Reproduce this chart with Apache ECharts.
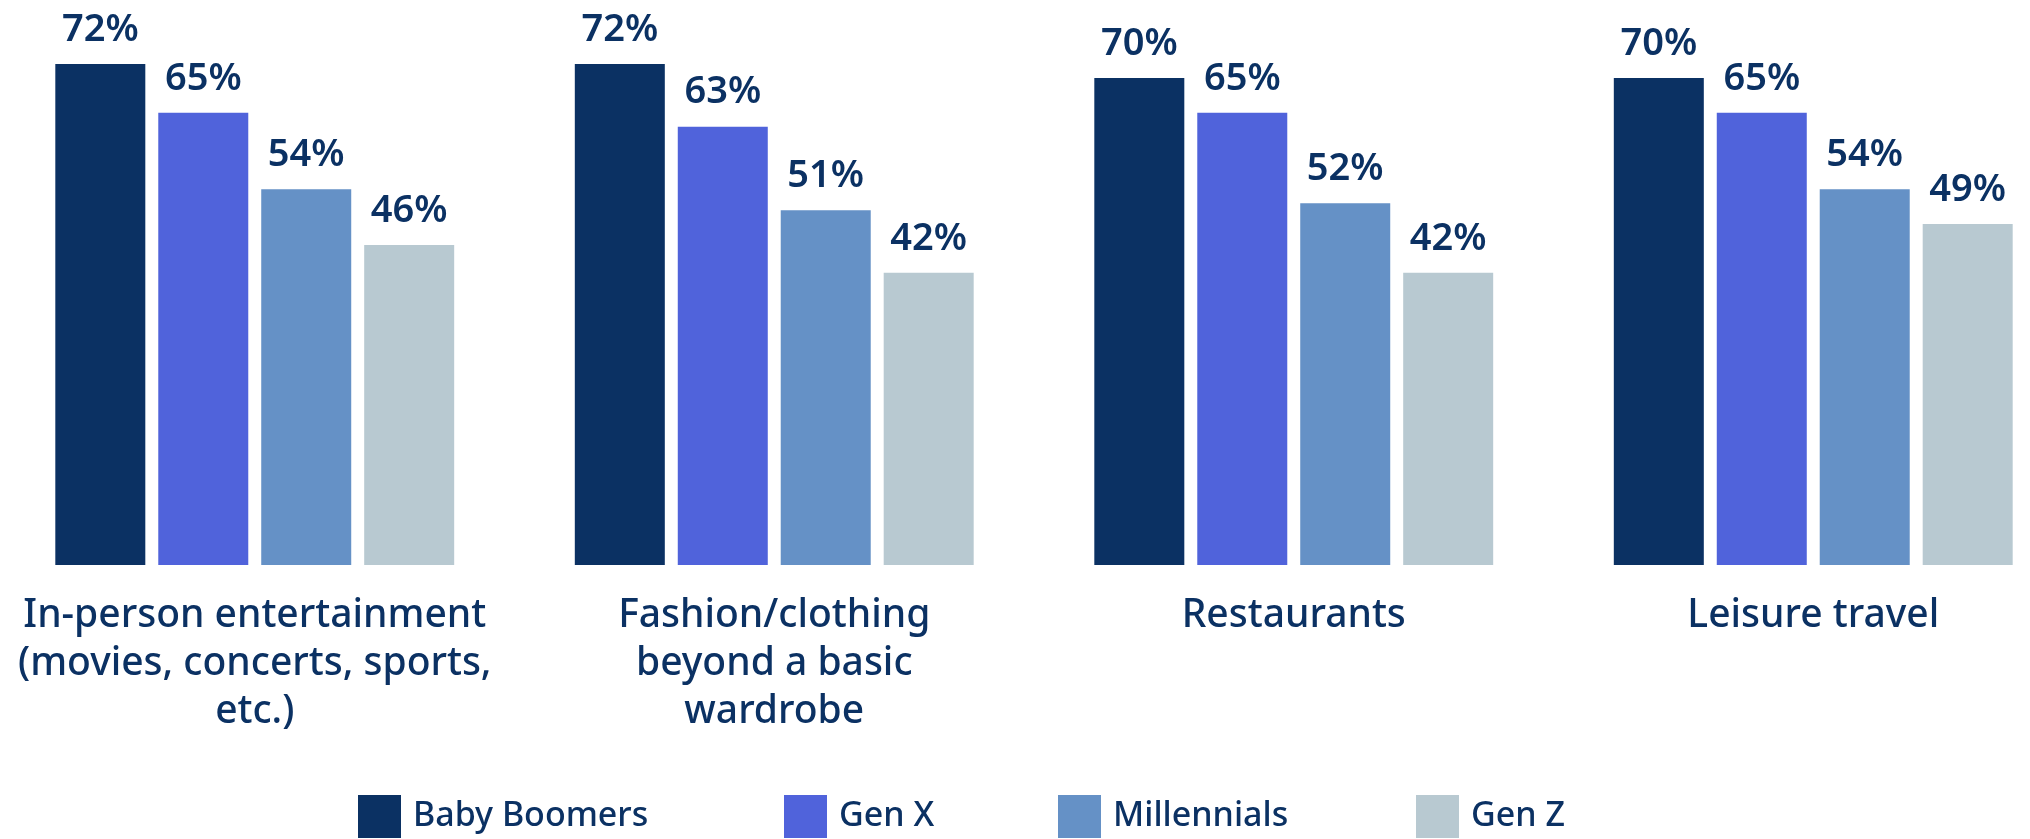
<!DOCTYPE html>
<html>
<head>
<meta charset="utf-8">
<style>
  html, body { margin: 0; padding: 0; background: #ffffff; }
  #chart { width: 2030px; height: 839px; }
</style>
<script src="https://cdn.jsdelivr.net/npm/echarts@6/dist/echarts.min.js"></script>
</head>
<body>
<div id="chart"></div>
<script>
// Spending categories and share of each generation (percent)
const categories = [
  'In-person entertainment\n(movies, concerts, sports,\netc.)',
  'Fashion/clothing\nbeyond a basic\nwardrobe',
  'Restaurants',
  'Leisure travel'
];
const babyBoomers = [72, 72, 70, 70];
const genX = [65, 63, 65, 65];
const millennials = [54, 51, 52, 54];
const genZ = [46, 42, 42, 49];

const seriesNames = ['Baby Boomers', 'Gen X', 'Millennials', 'Gen Z'];
const seriesData = [babyBoomers, genX, millennials, genZ];
const colors = ['#0b3163', '#5063db', '#6591c6', '#b8c9d1'];
const textColor = '#0b3163';
const fontFamily = '"Noto Sans", Lato, sans-serif';

const legendLefts = [358, 784, 1058, 1416];

const chart = echarts.init(document.getElementById('chart'));

chart.setOption({
  animation: false,
  color: colors,
  grid: {
    left: -5,
    width: 2078,
    top: 0,
    bottom: 274,
    containLabel: false,
    outerBoundsMode: 'none'
  },
  legend: seriesNames.map((name, i) => ({
    data: [name],
    left: legendLefts[i],
    top: 795,
    padding: 0,
    itemWidth: 43,
    itemHeight: 43,
    icon: 'rect',
    selectedMode: false,
    textStyle: {
      color: textColor,
      fontSize: 34,
      fontFamily: fontFamily,
      fontWeight: 500,
      padding: [0, 0, 0, 7]
    }
  })),
  xAxis: {
    type: 'category',
    data: categories,
    axisLine: { show: false },
    axisTick: { show: false },
    axisLabel: {
      margin: 27,
      color: textColor,
      fontSize: 39,
      lineHeight: 48,
      fontFamily: fontFamily,
      fontWeight: 500,
      interval: 0,
      align: 'center'
    }
  },
  yAxis: {
    type: 'value',
    min: 0,
    max: 81.2,
    show: false,
    splitLine: { show: false }
  },
  series: seriesNames.map((name, i) => ({
    name: name,
    type: 'bar',
    data: seriesData[i],
    barWidth: 90,
    barGap: '14.4%',
    itemStyle: { color: colors[i] },
    label: {
      show: true,
      position: 'top',
      distance: 15,
      formatter: '{c}%',
      color: textColor,
      fontSize: 38,
      fontWeight: 600,
      fontFamily: fontFamily
    }
  }))
});
</script>
</body>
</html>
